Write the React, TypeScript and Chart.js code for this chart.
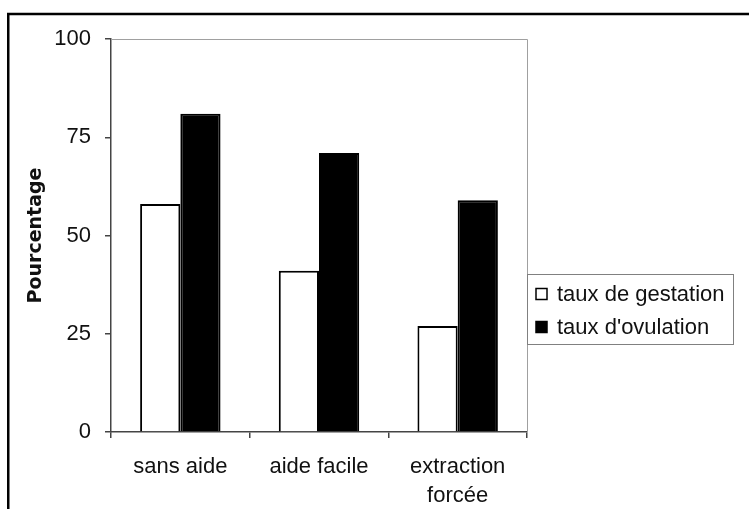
import React, { useEffect, useRef } from "react";
import { Chart, registerables } from "chart.js";

Chart.register(...registerables);

// Outcome categories (bottom axis)
const categories: (string | string[])[] = ["sans aide", "aide facile", ["extraction", "forcée"]];
// Pregnancy rate (%) per category
const tauxGestation: number[] = [58, 41, 27];
// Ovulation rate (%) per category
const tauxOvulation: number[] = [81, 71, 59];
// Value axis
const yMin = 0;
const yMax = 100;
const yStep = 25;
const yTitle = "Pourcentage";
const seriesLabels: string[] = ["taux de gestation", "taux d'ovulation"];

const FONT = "'Liberation Sans', Arial, Helvetica, sans-serif";

// Page frame, top/right plot border and boxed legend
const decorPlugin = {
  id: "decor",
  beforeDraw(chart: any) {
    const { ctx, width, height } = chart;
    ctx.save();
    ctx.fillStyle = "#ffffff";
    ctx.fillRect(0, 0, width, height);
    ctx.restore();
  },
  afterDraw(chart: any) {
    const { ctx, chartArea: a } = chart;
    ctx.save();
    // outer frame (continues past the right and bottom edges)
    ctx.strokeStyle = "#000000";
    ctx.lineWidth = 2.5;
    ctx.beginPath();
    ctx.moveTo(8.25, chart.height + 10);
    ctx.lineTo(8.25, 14);
    ctx.lineTo(chart.width + 10, 14);
    ctx.stroke();

    // light top and right border of the plot area
    ctx.strokeStyle = "#a0a0a0";
    ctx.lineWidth = 1;
    ctx.beginPath();
    ctx.moveTo(a.left, a.top + 0.5);
    ctx.lineTo(a.right + 0.5, a.top + 0.5);
    ctx.lineTo(a.right + 0.5, a.bottom);
    ctx.stroke();

    // legend box
    const lx = a.right;
    const ly = 274;
    const lw = 206;
    const lh = 70;
    ctx.strokeStyle = "#808080";
    ctx.lineWidth = 1;
    ctx.strokeRect(lx + 0.5, ly + 0.5, lw, lh);

    ctx.font = `22px ${FONT}`;
    ctx.textBaseline = "middle";
    ctx.textAlign = "left";
    const rows = [294, 327];
    chart.data.datasets.forEach((ds: any, i: number) => {
      const cy = rows[i];
      const sx = lx + 9;
      const s = 11;
      ctx.fillStyle = ds.backgroundColor;
      ctx.fillRect(sx, cy - s / 2, s, s);
      ctx.strokeStyle = "#000000";
      ctx.lineWidth = 1.5;
      ctx.strokeRect(sx, cy - s / 2, s, s);
      ctx.fillStyle = "#111111";
      ctx.fillText(ds.label, lx + 30, cy + 1);
    });
    ctx.restore();
  },
};

export default function App() {
  const ref = useRef<HTMLCanvasElement | null>(null);

  useEffect(() => {
    if (!ref.current) return;
    const chart = new Chart(ref.current, {
      type: "bar",
      data: {
        labels: categories,
        datasets: [
          {
            label: seriesLabels[0],
            data: tauxGestation,
            backgroundColor: "#ffffff",
            borderColor: "#000000",
            borderWidth: 2,
            categoryPercentage: 0.58,
            barPercentage: 1,
          },
          {
            label: seriesLabels[1],
            data: tauxOvulation,
            backgroundColor: "#000000",
            borderColor: "#000000",
            borderWidth: 2,
            categoryPercentage: 0.58,
            barPercentage: 1,
          },
        ],
      },
      options: {
        animation: false,
        responsive: false,
        maintainAspectRatio: false,
        layout: { padding: { left: 0, top: 39, right: 222, bottom: 0 } },
        plugins: {
          legend: { display: false },
          tooltip: { enabled: false },
          title: { display: false },
        },
        scales: {
          x: {
            afterFit(scale: any) {
              scale.height = 77;
            },
            grid: {
              display: true,
              drawOnChartArea: false,
              drawTicks: true,
              tickLength: 6,
              color: "#444444",
              lineWidth: 1.5,
              offset: true,
            },
            border: { display: true, color: "#444444", width: 1.5 },
            ticks: {
              color: "#111111",
              padding: 15,
              maxRotation: 0,
              autoSkip: false,
              font: { family: FONT, size: 22, lineHeight: 1.3 },
            },
          },
          y: {
            min: yMin,
            max: yMax,
            afterFit(scale: any) {
              scale.width = 111;
            },
            grid: {
              display: true,
              drawOnChartArea: false,
              drawTicks: true,
              tickLength: 6,
              color: "#444444",
              lineWidth: 1.5,
            },
            border: { display: true, color: "#444444", width: 1.5 },
            ticks: {
              stepSize: yStep,
              color: "#111111",
              padding: 14,
              font: { family: FONT, size: 22 },
            },
            title: {
              display: true,
              text: yTitle,
              color: "#111111",
              padding: { top: 25, bottom: 0 },
              font: { family: "'DejaVu Sans', sans-serif", size: 19, weight: "bold", lineHeight: 1.2 },
            },
          },
        },
      },
      plugins: [decorPlugin],
    });
    return () => chart.destroy();
  }, []);

  return (
    <div style={{ position: "fixed", left: 0, top: 0, width: 749, height: 509, background: "#fff" }}>
      <canvas ref={ref} width={749} height={509} style={{ display: "block", width: 749, height: 509 }} />
    </div>
  );
}
